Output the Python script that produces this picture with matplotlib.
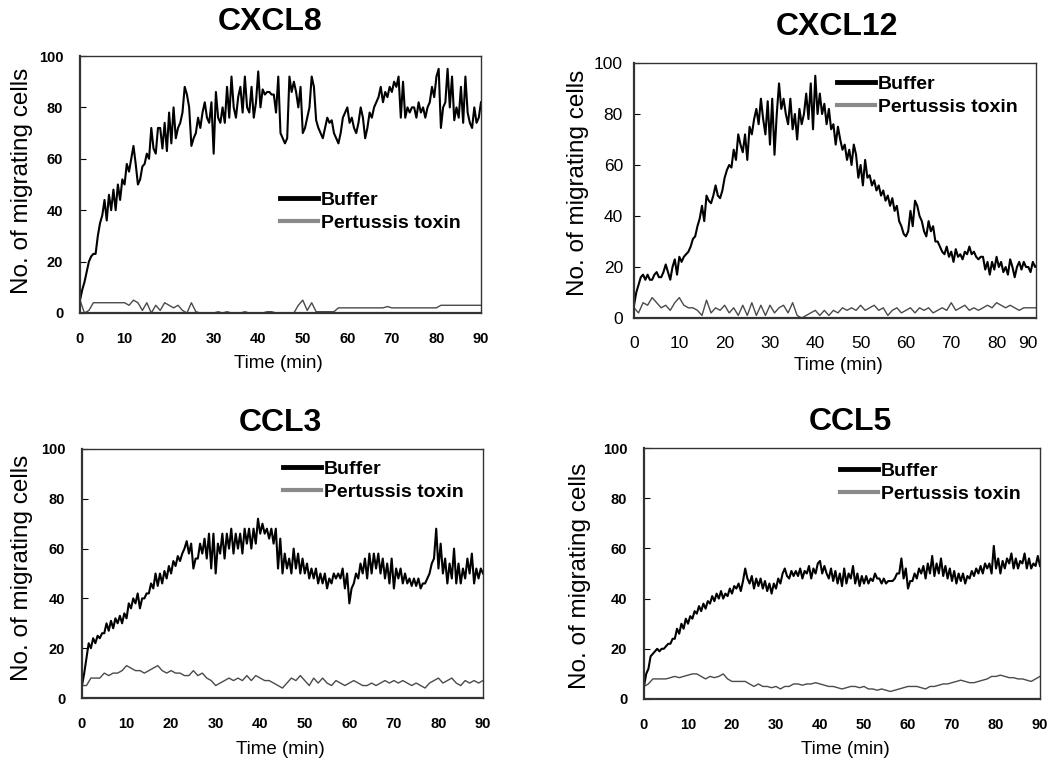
import numpy as np
import matplotlib
matplotlib.use('Agg')
import matplotlib.pyplot as plt
from matplotlib.lines import Line2D

plt.rcParams['font.family'] = ['Liberation Sans', 'DejaVu Sans']

# sampling: buffer every 0.5 min, toxin every 1 min
t_buf = np.arange(181) * 0.5
t_tox = np.arange(91) * 1.0

cxcl8_buffer = [
    5, 9, 12, 16, 20, 22, 23, 23, 30, 35,
    38, 44, 36, 46, 40, 48, 40, 50, 44, 52,
    50, 58, 55, 60, 65, 58, 50, 52, 57, 58,
    62, 60, 72, 64, 62, 72, 72, 64, 74, 63,
    78, 66, 80, 68, 72, 74, 78, 88, 85, 80,
    65, 68, 70, 76, 72, 78, 82, 76, 74, 82,
    62, 86, 76, 74, 80, 74, 88, 76, 92, 80,
    76, 84, 88, 78, 92, 80, 78, 88, 76, 82,
    94, 80, 87, 85, 86, 86, 85, 85, 78, 92,
    70, 68, 66, 68, 92, 86, 90, 86, 80, 88,
    70, 72, 76, 80, 92, 88, 75, 72, 70, 68,
    72, 76, 74, 75, 70, 68, 66, 70, 76, 78,
    80, 74, 76, 72, 70, 74, 80, 76, 68, 72,
    78, 76, 80, 82, 84, 88, 82, 86, 84, 88,
    86, 90, 88, 92, 76, 90, 76, 80, 78, 80,
    80, 76, 82, 78, 80, 76, 80, 82, 88, 84,
    92, 95, 72, 80, 82, 95, 80, 92, 75, 80,
    76, 88, 74, 92, 78, 74, 72, 80, 74, 76,
    82]
cxcl8_toxin = [
    5, 0, 1, 4, 4, 4, 4, 4, 4, 4,
    4, 3, 5, 4, 1, 4, 0, 3, 1, 4,
    3, 2, 3, 1, 0, 4, 0.5, 0, 0, 0,
    0, 0.5, 0, 0.5, 0, 0, 0, 0.5, 0, 0,
    0, 0, 0.5, 0.5, 0, 0, 0, 0, 0, 3,
    5, 1, 4, 0.5, 0.5, 0.5, 0.5, 0.5, 2, 2,
    2, 2, 2, 2, 2, 2, 2, 2, 2, 2.5,
    2, 2, 2, 2, 2, 2, 2, 2, 2, 2,
    2, 3, 3, 3, 3, 3, 3, 3, 3, 3,
    3]

cxcl12_buffer = [
    5, 10, 13, 16, 17, 15, 17, 15, 15, 17,
    18, 16, 16, 18, 21, 18, 15, 20, 23, 17,
    24, 22, 24, 25, 26, 28, 31, 32, 36, 39,
    44, 38, 48, 46, 45, 48, 52, 48, 47, 50,
    55, 58, 60, 59, 66, 62, 72, 68, 65, 72,
    62, 75, 72, 78, 82, 76, 86, 78, 72, 85,
    68, 86, 64, 80, 92, 82, 86, 80, 76, 86,
    74, 80, 70, 82, 76, 80, 88, 78, 92, 74,
    95, 80, 88, 80, 84, 76, 82, 74, 76, 68,
    75, 70, 66, 68, 62, 66, 60, 68, 64, 55,
    60, 52, 62, 55, 56, 52, 54, 50, 52, 48,
    50, 46, 48, 44, 47, 42, 44, 38, 36, 33,
    32, 34, 42, 36, 46, 44, 40, 38, 34, 32,
    38, 34, 36, 30, 30, 28, 26, 25, 28, 24,
    26, 22, 27, 24, 25, 23, 26, 25, 28, 25,
    26, 24, 23, 24, 24, 19, 22, 17, 22, 19,
    24, 20, 22, 18, 20, 17, 23, 20, 16, 20,
    22, 19, 22, 20, 20, 18, 22, 20, 21, 22,
    21]
cxcl12_toxin = [
    4, 2, 6, 5, 8, 6, 4, 5, 3, 6,
    8, 5, 4, 4, 3, 1, 7, 2, 4, 3,
    5, 2, 4, 1, 5, 1, 6, 1, 5, 1,
    5, 2, 4, 5, 2, 6, 1, 0, 1, 2,
    3, 1, 3, 1, 3, 2, 4, 3, 4, 3,
    5, 3, 4, 5, 3, 4, 1, 3, 4, 2,
    3, 4, 2, 4, 3, 4, 2, 3, 4, 3,
    6, 3, 4, 5, 3, 4, 3, 4, 5, 4,
    6, 5, 4, 5, 4, 3, 4, 4, 4, 4,
    4]

ccl3_buffer = [
    5, 10, 16, 22, 20, 24, 22, 25, 24, 26,
    26, 30, 27, 31, 28, 32, 30, 33, 30, 34,
    32, 38, 36, 40, 38, 42, 36, 40, 40, 42,
    42, 46, 44, 50, 45, 50, 46, 51, 48, 53,
    50, 55, 53, 57, 55, 58, 60, 63, 58, 62,
    52, 56, 56, 62, 58, 64, 56, 66, 52, 66,
    50, 62, 58, 66, 56, 66, 60, 68, 58, 66,
    60, 66, 58, 68, 62, 68, 60, 68, 62, 72,
    66, 70, 66, 68, 64, 68, 62, 68, 52, 64,
    50, 58, 52, 56, 50, 60, 52, 58, 50, 56,
    50, 54, 48, 52, 48, 52, 46, 50, 46, 50,
    44, 48, 46, 50, 48, 50, 48, 52, 44, 50,
    38, 44, 46, 50, 48, 54, 50, 56, 48, 58,
    50, 58, 52, 58, 50, 56, 48, 54, 46, 56,
    44, 52, 48, 52, 46, 50, 46, 48, 45, 48,
    45, 48, 44, 46, 46, 48, 50, 54, 56, 68,
    52, 62, 50, 56, 46, 54, 48, 60, 46, 54,
    46, 52, 48, 56, 50, 58, 46, 52, 48, 52,
    50]
ccl3_toxin = [
    5, 5, 8, 8, 8, 10, 9, 10, 10, 11,
    13, 12, 11, 11, 10, 11, 12, 13, 11, 10,
    11, 10, 10, 9, 9, 11, 9, 10, 8, 7,
    5, 6, 7, 8, 7, 8, 7, 9, 7, 9,
    8, 7, 7, 6, 5, 4, 6, 8, 7, 9,
    7, 5, 8, 6, 8, 6, 5, 7, 6, 5,
    6, 7, 6, 5, 5, 6, 5, 6, 7, 6,
    7, 6, 7, 6, 5, 6, 5, 4, 6, 7,
    8, 6, 7, 8, 6, 5, 7, 6, 7, 6,
    7]

ccl5_buffer = [
    5, 10, 12, 17, 18, 19, 20, 19, 20, 20,
    21, 22, 22, 24, 24, 28, 26, 30, 28, 32,
    30, 33, 32, 35, 34, 37, 35, 38, 36, 39,
    38, 41, 39, 42, 40, 43, 40, 42, 41, 44,
    42, 45, 44, 46, 43, 47, 52, 48, 46, 49,
    44, 48, 45, 48, 44, 47, 43, 46, 42, 46,
    44, 48, 46, 50, 52, 49, 48, 51, 49, 51,
    49, 52, 48, 51, 50, 53, 48, 52, 50, 54,
    55, 50, 53, 50, 48, 52, 47, 51, 46, 50,
    45, 52, 46, 50, 48, 53, 46, 50, 45, 49,
    46, 49, 46, 48, 47, 50, 48, 48, 46, 48,
    46, 47, 47, 47, 48, 50, 50, 56, 48, 52,
    44, 47, 47, 50, 48, 52, 50, 53, 48, 54,
    50, 57, 49, 54, 50, 56, 49, 53, 48, 52,
    47, 51, 46, 50, 47, 50, 46, 49, 48, 51,
    49, 52, 50, 53, 50, 54, 52, 54, 50, 61,
    52, 56, 50, 55, 52, 56, 54, 58, 52, 56,
    52, 55, 54, 58, 52, 56, 52, 54, 53, 57,
    53]
ccl5_toxin = [
    5, 6, 8, 8, 8, 8, 8.5, 9, 8.5, 9,
    9.5, 10, 10, 9, 8, 9, 8.5, 9, 10, 8,
    7, 7, 7, 7, 6, 5, 6, 5, 5, 4.5,
    5, 4, 5, 5, 6, 6, 5.5, 6, 6, 6.5,
    6, 5.5, 5, 5, 4.5, 4, 4.5, 5, 5, 4.5,
    5, 4, 4, 3.5, 4, 3.5, 3, 3.5, 4, 4.5,
    5, 5, 5, 4.5, 4, 5, 5, 5.5, 6, 6,
    6.5, 7, 7.5, 7, 6.5, 6.5, 7, 7.5, 8, 9,
    9, 9.5, 9, 8.5, 8.5, 8, 8, 7.5, 7, 8,
    9]

legend_labels = ['Buffer', 'Pertussis toxin']
y_ticks = [0, 20, 40, 60, 80, 100]
x_ticks = [0, 10, 20, 30, 40, 50, 60, 70, 80, 90]

TOX_COLOR = '#4a4a4a'


def panel(rect, title, title_xy, buf, tox, xmax, legend_at,
          ylabel_xy, xlabel_xy, tick_bold=True, tick_size=10.5, xtick_pos=None,
          xpad=14, ypad=12):
    ax = fig.add_axes(rect)
    ax.plot(t_buf, buf, color='black', lw=1.5)
    ax.plot(t_tox, tox, color=TOX_COLOR, lw=1.0)
    ax.set_xlim(0, xmax)
    ax.set_ylim(0, 100)
    ax.set_yticks(y_ticks)
    ax.set_xticks(x_ticks if xtick_pos is None else xtick_pos)
    ax.set_xticklabels([str(v) for v in x_ticks])
    wt = 'bold' if tick_bold else 'normal'
    for lab in ax.get_xticklabels() + ax.get_yticklabels():
        lab.set_fontweight(wt)
        lab.set_fontsize(tick_size)
    ax.tick_params(axis='x', length=0, pad=xpad)
    ax.tick_params(axis='y', direction='in', length=4, pad=ypad)
    for s in ax.spines.values():
        s.set_linewidth(1.0)
        s.set_color('#333333')
    ax.spines['left'].set_linewidth(1.6)
    ax.spines['bottom'].set_linewidth(1.6)

    handles = [Line2D([], [], color='black', lw=3.5),
               Line2D([], [], color='#8a8a8a', lw=3.0)]
    ax.legend(handles, legend_labels, loc='upper left', bbox_to_anchor=legend_at,
              frameon=False, borderpad=0, borderaxespad=0, handlelength=1.95,
              handletextpad=0.15, labelspacing=0.3,
              prop={'weight': 'bold', 'size': 14})

    fig.text(title_xy[0] / W, 1 - title_xy[1] / H, title, ha='center', va='center',
             fontsize=23, fontweight='bold')
    fig.text(ylabel_xy[0] / W, 1 - ylabel_xy[1] / H, 'No. of migrating cells',
             rotation=90, ha='center', va='center', fontsize=17.5)
    fig.text(xlabel_xy[0] / W, 1 - xlabel_xy[1] / H, 'Time (min)',
             ha='center', va='center', fontsize=13.5)
    return ax


W, H = 1051, 762
fig = plt.figure(figsize=(W / 100, H / 100), dpi=100)


def rect_px(l, t, r, b):
    return [l / W, 1 - b / H, (r - l) / W, (b - t) / H]


panel(rect_px(80, 56, 481, 313), 'CXCL8', (270, 22), cxcl8_buffer, cxcl8_toxin, 90,
      (0.499, 0.475), (22, 181), (278, 364))
panel(rect_px(634, 63, 1036, 318), 'CXCL12', (837, 27), cxcl12_buffer, cxcl12_toxin, 88.7,
      (0.505, 0.953), (578, 183), (838, 365), tick_bold=False, tick_size=12.5,
      xtick_pos=[0, 10, 20, 30, 40, 50, 60, 70, 80, 86.9], xpad=13, ypad=8)
panel(rect_px(82, 449, 483, 698), 'CCL3', (280, 423), ccl3_buffer, ccl3_toxin, 90,
      (0.501, 0.956), (22, 568), (280, 750))
panel(rect_px(644, 448, 1040, 699), 'CCL5', (850, 422), ccl5_buffer, ccl5_toxin, 90,
      (0.495, 0.944), (580, 576), (845, 750))

fig.savefig('out.png', dpi=100)
